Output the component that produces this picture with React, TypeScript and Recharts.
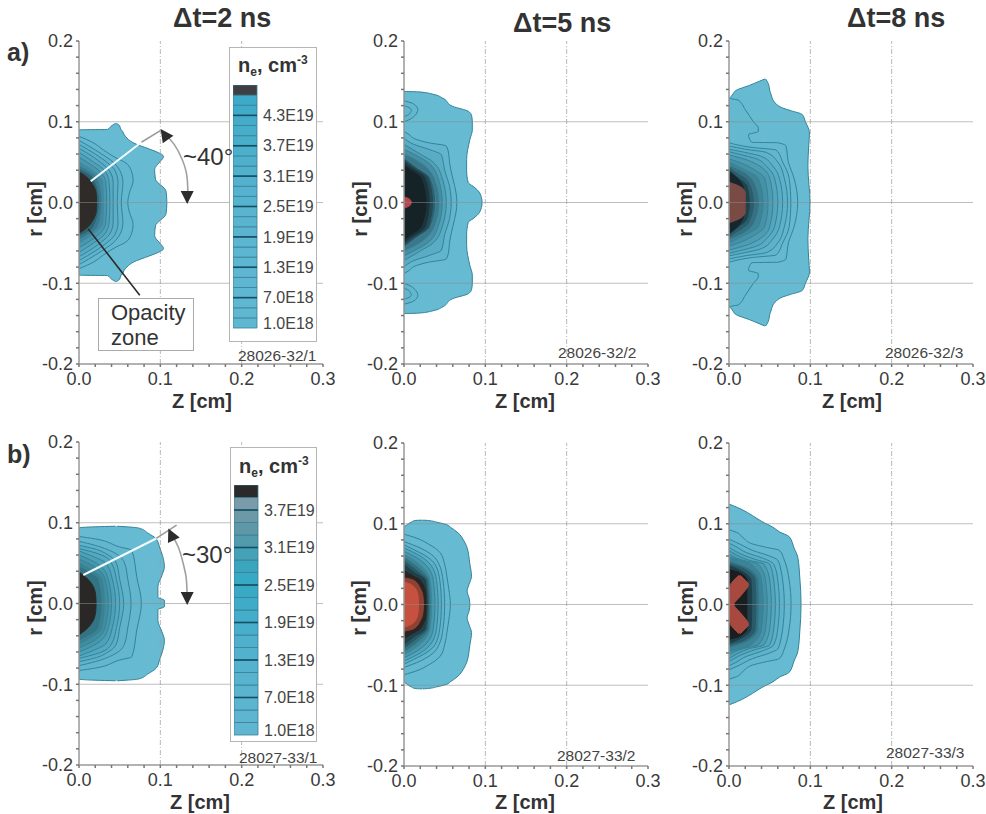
import React from "react";
import { Bar, BarChart, Area, ComposedChart, Line, ReferenceDot, ReferenceLine, XAxis, YAxis } from "recharts";

// Contours as [r, zHigh] or [r, zLow, zHigh], upper half only (r >= 0).
// The profiles are symmetric about r = 0, so the lower half is mirrored.
type Pt = number[];

const a1Contours: Pt[][] = [
  [[0, 0.108], [0.014, 0.107], [0.029, 0.094], [0.041, 0.093], [0.051, 0.1], [0.057, 0.104], [0.062, 0.097], [0.066, 0.087], [0.074, 0.0665], [0.082, 0.057], [0.09, 0.052], [0.0905, 0.035, 0.0515], [0.095, 0.04, 0.05], [0.098, 0.045, 0.046]],
  [[0, 0.06], [0.012, 0.062], [0.027, 0.0665], [0.04, 0.064], [0.05, 0.056], [0.055, 0.046], [0.065, 0.03], [0.074, 0.0175], [0.082, 0]],
  [[0, 0.052], [0.025, 0.054], [0.04, 0.05], [0.05, 0.042], [0.06, 0.028], [0.07, 0.012], [0.077, 0]],
  [[0, 0.047], [0.025, 0.048], [0.04, 0.044], [0.05, 0.034], [0.06, 0.02], [0.072, 0]],
  [[0, 0.042], [0.025, 0.042], [0.04, 0.037], [0.05, 0.026], [0.06, 0.012], [0.067, 0]],
  [[0, 0.038], [0.025, 0.037], [0.04, 0.031], [0.05, 0.018], [0.062, 0]],
  [[0, 0.034], [0.025, 0.033], [0.04, 0.024], [0.05, 0.01], [0.056, 0]],
  [[0, 0.03], [0.025, 0.029], [0.04, 0.016], [0.05, 0]],
  [[0, 0.027], [0.03, 0.022], [0.04, 0.009], [0.045, 0]],
  [[0, 0.024], [0.03, 0.017], [0.041, 0]],
  [[0, 0.0217], [0.012, 0.021], [0.022, 0.017], [0.032, 0.009], [0.038, 0]],
];
const a1Fills = ["#66bad2", "#63b7cf", "#60b3cb", "#5cafc7", "#58a9c1", "#52a1b9", "#4a96ad", "#41899f", "#38798d", "#2d6473", "#2e2b29"];

const a2Contours: Pt[][] = [
  [[0, 0.096], [0.012, 0.093], [0.02, 0.085], [0.0245, 0.079], [0.04, 0.077], [0.053, 0.077], [0.078, 0.081], [0.09, 0.084], [0.1, 0.084], [0.108, 0.083], [0.113, 0.079], [0.119, 0.06], [0.129, 0.048], [0.134, 0.036], [0.137, 0, 0.018], [0.1375, 0, 0]],
  [[0, 0.065], [0.012, 0.064], [0.03, 0.06], [0.049, 0.056], [0.06, 0.055], [0.07, 0.052], [0.074, 0.03], [0.078, 0.0155], [0.085, 0.005], [0.088, 0]],
  [[0, 0.058], [0.02, 0.056], [0.04, 0.05], [0.059, 0.046], [0.066, 0.03], [0.072, 0.012], [0.08, 0]],
  [[0, 0.052], [0.03, 0.047], [0.05, 0.036], [0.06, 0.02], [0.072, 0]],
  [[0, 0.047], [0.03, 0.042], [0.05, 0.029], [0.06, 0.012], [0.066, 0]],
  [[0, 0.043], [0.03, 0.037], [0.05, 0.019], [0.06, 0]],
  [[0, 0.039], [0.03, 0.033], [0.045, 0.014], [0.056, 0]],
  [[0, 0.035], [0.03, 0.03], [0.045, 0.01], [0.053, 0]],
  [[0, 0.031], [0.03, 0.026], [0.045, 0.006], [0.05, 0]],
  [[0, 0.027], [0.03, 0.021], [0.04, 0.008], [0.046, 0]],
  [[0, 0.009], [0.004, 0.007], [0.007, 0]],
];
const a2Fills = ["#66bad2", "#61b5cd", "#5aacc4", "#52a0b6", "#478da3", "#3c7789", "#2f6070", "#244955", "#1b343c", "#152226", "#b8464c"];
const a2Islands: Pt[][] = [
  [[0.1, 0, 0], [0.104, 0, 0.009], [0.115, 0, 0.017], [0.122, 0, 0.012], [0.126, 0, 0]],
  [[0.106, 0, 0], [0.11, 0, 0.007], [0.115, 0, 0.009], [0.12, 0, 0]],
];

const a3Contours: Pt[][] = [
  [[0, 0.0996], [0.045, 0.097], [0.07, 0.098], [0.086, 0.099], [0.1, 0.094], [0.109, 0.09], [0.114, 0.075], [0.117, 0.066], [0.122, 0.058], [0.127, 0, 0.054], [0.133, 0.004, 0.052], [0.139, 0.009, 0.05], [0.145, 0.025, 0.049], [0.15, 0.037, 0.047], [0.153, 0.044, 0.045]],
  [[0, 0.0845], [0.03, 0.08], [0.05, 0.073], [0.07, 0.07], [0.074, 0.06], [0.0745, 0.028], [0.084, 0.024], [0.088, 0.036], [0.092, 0.036], [0.1, 0.03], [0.115, 0.02], [0.127, 0.011], [0.128, 0.005], [0.13, 0]],
  [[0, 0.076], [0.03, 0.074], [0.05, 0.066], [0.065, 0.058], [0.068, 0.03], [0.074, 0]],
  [[0, 0.072], [0.03, 0.068], [0.05, 0.06], [0.062, 0.046], [0.066, 0.02], [0.07, 0]],
  [[0, 0.066], [0.03, 0.062], [0.045, 0.054], [0.057, 0.04], [0.063, 0.015], [0.066, 0]],
  [[0, 0.06], [0.03, 0.056], [0.045, 0.046], [0.054, 0.034], [0.06, 0.012], [0.063, 0]],
  [[0, 0.054], [0.03, 0.05], [0.045, 0.038], [0.052, 0.024], [0.059, 0]],
  [[0, 0.048], [0.03, 0.044], [0.04, 0.032], [0.05, 0.012], [0.054, 0]],
  [[0, 0.042], [0.03, 0.036], [0.04, 0.02], [0.05, 0]],
  [[0, 0.036], [0.025, 0.03], [0.04, 0.012], [0.045, 0]],
  [[0, 0.03], [0.025, 0.024], [0.04, 0.004], [0.043, 0]],
  [[0, 0.025], [0.02, 0.022], [0.033, 0.008], [0.04, 0]],
  [[0, 0.02], [0.02, 0.017], [0.032, 0.008], [0.038, 0]],
  [[0, 0.02], [0.012, 0.02], [0.02, 0.013], [0.025, 0]],
];
const a3Fills = ["#66bad2", "#64b8d0", "#61b5cd", "#5eb1c9", "#5aacc4", "#55a5bc", "#4f9cb2", "#4791a6", "#3f8396", "#357182", "#2b5d6b", "#20424d", "#17262c", "#7a4a45"];

const b1Contours: Pt[][] = [
  [[0, 0.105], [0.004, 0.105], [0.0075, 0.097], [0.021, 0.097], [0.035, 0.102], [0.0456, 0.105], [0.058, 0.103], [0.07, 0.099], [0.08, 0.095], [0.087, 0.085], [0.0936, 0, 0.073], [0.095, 0.02, 0.058], [0.0957, 0.045, 0.047]],
  [[0, 0.0767], [0.033, 0.071], [0.066, 0.065], [0.07, 0.05], [0.08, 0.02], [0.083, 0]],
  [[0, 0.064], [0.03, 0.06], [0.05, 0.056], [0.062, 0.045], [0.072, 0.02], [0.077, 0]],
  [[0, 0.055], [0.03, 0.05], [0.05, 0.046], [0.06, 0.036], [0.068, 0.018], [0.072, 0]],
  [[0, 0.05], [0.03, 0.046], [0.05, 0.04], [0.06, 0.028], [0.065, 0.012], [0.068, 0]],
  [[0, 0.045], [0.03, 0.041], [0.05, 0.033], [0.058, 0.018], [0.065, 0]],
  [[0, 0.04], [0.03, 0.036], [0.045, 0.028], [0.055, 0.012], [0.06, 0]],
  [[0, 0.036], [0.03, 0.032], [0.045, 0.02], [0.055, 0]],
  [[0, 0.031], [0.03, 0.028], [0.04, 0.018], [0.05, 0]],
  [[0, 0.027], [0.03, 0.023], [0.04, 0.01], [0.045, 0]],
  [[0, 0.021], [0.01, 0.0205], [0.02, 0.018], [0.03, 0.011], [0.036, 0.004], [0.039, 0]],
];
const b1Fills = ["#66bad2", "#62b7cf", "#5eb3cb", "#59aec6", "#54a8bf", "#4ea0b6", "#4797ac", "#408da0", "#398193", "#327484", "#2a2826"];

const b2Contours: Pt[][] = [
  [[0, 0.081], [0.008, 0.08], [0.0165, 0.0776], [0.025, 0.08], [0.035, 0.083], [0.05, 0.081], [0.072, 0.077], [0.08, 0.073], [0.0866, 0.0686], [0.093, 0.061], [0.095, 0, 0.058], [0.099, 0.004, 0.052], [0.102, 0.009, 0.04], [0.104, 0.0135, 0.03], [0.1045, 0.022, 0.023]],
  [[0, 0.057], [0.02, 0.055], [0.035, 0.0527], [0.05, 0.05], [0.064, 0.0445], [0.075, 0.03], [0.082, 0.016], [0.087, 0]],
  [[0, 0.05], [0.03, 0.048], [0.05, 0.043], [0.06, 0.036], [0.07, 0.02], [0.078, 0]],
  [[0, 0.046], [0.03, 0.044], [0.05, 0.038], [0.06, 0.027], [0.068, 0.012], [0.074, 0]],
  [[0, 0.042], [0.03, 0.04], [0.05, 0.032], [0.06, 0.02], [0.07, 0]],
  [[0, 0.038], [0.03, 0.036], [0.05, 0.026], [0.06, 0.012], [0.066, 0]],
  [[0, 0.034], [0.03, 0.032], [0.045, 0.024], [0.055, 0.012], [0.062, 0]],
  [[0, 0.032], [0.03, 0.03], [0.045, 0.018], [0.058, 0]],
  [[0, 0.03], [0.03, 0.028], [0.04, 0.018], [0.054, 0]],
  [[0, 0.0285], [0.03, 0.026], [0.04, 0.012], [0.05, 0]],
  [[0, 0.027], [0.012, 0.027], [0.03, 0.02], [0.036, 0.01], [0.042, 0]],
  [[0, 0.024], [0.012, 0.023], [0.02, 0.02], [0.03, 0.012], [0.033, 0]],
  [[0, 0.018], [0.012, 0.017], [0.02, 0.014], [0.026, 0.006], [0.028, 0]],
];
const b2Fills = ["#66bad2", "#64b8d0", "#60b4cc", "#5aaec6", "#52a4bb", "#4897ac", "#3d8799", "#33727f", "#285a65", "#20414a", "#2a2422", "#8f4134", "#c6513f"];

const b3Contours: Pt[][] = [
  [[0, 0.0886], [0.034, 0.087], [0.0587, 0.0845], [0.07, 0.08], [0.084, 0.074], [0.09, 0.062], [0.0957, 0.054], [0.103, 0.04], [0.11, 0.029], [0.118, 0.015], [0.122, 0.006], [0.124, 0.001]],
  [[0, 0.0763], [0.03, 0.074], [0.055, 0.068], [0.067, 0.062], [0.071, 0.045], [0.075, 0.029], [0.083, 0.017], [0.0895, 0.009], [0.0925, 0]],
  [[0, 0.068], [0.03, 0.066], [0.042, 0.064], [0.055, 0.06], [0.06, 0.05], [0.067, 0.029], [0.075, 0.013], [0.081, 0]],
  [[0, 0.062], [0.03, 0.06], [0.05, 0.055], [0.058, 0.04], [0.064, 0.022], [0.072, 0.008], [0.076, 0]],
  [[0, 0.057], [0.03, 0.055], [0.05, 0.05], [0.056, 0.032], [0.062, 0.016], [0.071, 0]],
  [[0, 0.052], [0.03, 0.05], [0.05, 0.043], [0.055, 0.024], [0.06, 0.012], [0.067, 0]],
  [[0, 0.047], [0.03, 0.045], [0.05, 0.036], [0.055, 0.016], [0.062, 0]],
  [[0, 0.042], [0.03, 0.04], [0.05, 0.027], [0.058, 0]],
  [[0, 0.037], [0.03, 0.036], [0.045, 0.024], [0.054, 0]],
  [[0, 0.033], [0.03, 0.032], [0.045, 0.017], [0.05, 0]],
  [[0, 0.028], [0.03, 0.027], [0.04, 0.018], [0.045, 0.008], [0.048, 0]],
  [[0, 0.022], [0.03, 0.022], [0.04, 0.012], [0.043, 0]],
  [[0, 0, 0.006], [0.008, 0, 0.012], [0.015, 0, 0.018], [0.025, 0.002, 0.024], [0.03, 0.006, 0.02], [0.036, 0.012, 0.014]],
];
const b3Fills = ["#66bad2", "#63b7cf", "#5fb3cb", "#5baec6", "#56a7be", "#4f9db3", "#4791a6", "#3e8395", "#337081", "#295a69", "#1f404a", "#1a1e20", "#a8493f"];

// Tick lists
const zTicks = [0, 0.02, 0.04, 0.06, 0.08, 0.1, 0.12, 0.14, 0.16, 0.18, 0.2, 0.22, 0.24, 0.26, 0.28, 0.3];
const rTicks = [-0.2, -0.18, -0.16, -0.14, -0.12, -0.1, -0.08, -0.06, -0.04, -0.02, 0, 0.02, 0.04, 0.06, 0.08, 0.1, 0.12, 0.14, 0.16, 0.18, 0.2];

// Colour bars, bottom row first
const barAFills = ["#60b7d2", "#60b7d2", "#60b7d2", "#5eb6d2", "#5eb6d2", "#5eb6d2", "#5cb5d1", "#5cb5d1", "#5cb5d1", "#5ab4d0", "#5ab4d0", "#5ab4d0", "#56b3cf", "#56b3cf", "#54b2ce", "#50b1cd", "#4eb0cc", "#4cafcb", "#48aeca", "#46adca", "#44acc9", "#40abc8", "#3caac8", "#3e3f43"];
const barATicks = [0.5, 3, 6, 9, 12, 15, 18, 21];
const barALabels = ["1.0E18", "7.0E18", "1.3E19", "1.9E19", "2.5E19", "3.1E19", "3.7E19", "4.3E19"];
const barBFills = ["#60b6d1", "#5eb5d0", "#5cb5d0", "#5ab4cf", "#58b3cf", "#55b2ce", "#52b1cd", "#4eb0cc", "#48aecb", "#44adca", "#3eabc8", "#38aac6", "#36a9c4", "#3aa5bc", "#45a2b6", "#529bad", "#5e97a6", "#6d98a6", "#7a9baa", "#2b2a2a"];
const barBTicks = [0.4, 3, 6, 9, 12, 15, 18];
const barBLabels = ["1.0E18", "7.0E18", "1.3E19", "1.9E19", "2.5E19", "3.1E19", "3.7E19"];

// Annotation lines, in chart units
const a1Arc = [{ r: 0.008, z: 0.134 }, { r: 0.03, z: 0.133 }, { r: 0.053, z: 0.127 }, { r: 0.072, z: 0.117 }, { r: 0.088, z: 0.103 }];
const b1Arc = [{ r: 0.0086, z: 0.133 }, { r: 0.03, z: 0.132 }, { r: 0.05, z: 0.128 }, { r: 0.07, z: 0.122 }, { r: 0.086, z: 0.114 }];

const FONT = "'Liberation Sans', Arial, sans-serif";
const PLOT_W = 244;
const PLOT_H = 323;
const M_LEFT = 60;
const M_TOP = 12;
const M_RIGHT = 14;
const M_BOTTOM = 34;
const AXIS = "#999999";
const TICK = { stroke: "#777777" };

const toRows = (pts: Pt[]) => {
  const upper = pts.map((p) => ({ r: p[0], z: p.length === 3 ? [p[1], p[2]] : [0, p[1]] }));
  const lower = upper.filter((p) => p.r > 0).map((p) => ({ r: -p.r, z: p.z })).reverse();
  return [...lower, ...upper];
};

const islandRows = (pts: Pt[], sign: number) => pts.map((p) => ({ r: sign * p[0], z: [p[1], p[2]] }));

const fmtTick = (v: number) => (Math.abs(v * 10 - Math.round(v * 10)) < 1e-6 ? v.toFixed(1) : "");
const noLabel = () => "";

const Triangle = ({ cx, cy, angle }: { cx?: number; cy?: number; angle: number }) => (
  <polygon points="0,-8 6.5,5 -6.5,5" fill="#2c2c2c" transform={`translate(${cx},${cy}) rotate(${angle})`} />
);

interface PanelProps {
  left: number;
  top: number;
  contours: Pt[][];
  fills: string[];
  lined: number;
  islands?: Pt[][];
  children?: React.ReactNode;
}

function Panel({ left, top, contours, fills, lined, islands, children }: PanelProps) {
  const islandSets = (islands || []).flatMap((c) => [islandRows(c, 1), islandRows(c, -1)]);
  return (
    <div style={{ position: "absolute", left: left - M_LEFT, top: top - M_TOP }}>
      <ComposedChart
        width={M_LEFT + PLOT_W + M_RIGHT}
        height={M_TOP + PLOT_H + M_BOTTOM}
        layout="vertical"
        margin={{ top: M_TOP, right: M_RIGHT, bottom: 0, left: 0 }}
      >
        <XAxis
          type="number" xAxisId={0} orientation="bottom" domain={[0, 0.3]} ticks={zTicks} interval={0} height={M_BOTTOM}
          tickFormatter={fmtTick} tickSize={3} tickMargin={5} tickLine={TICK}
          stroke={AXIS} strokeWidth={1.5} tick={{ fill: "#3a3a3a", fontSize: 18, fontFamily: FONT }} allowDataOverflow
        />
        <XAxis
          type="number" xAxisId={1} orientation="top" domain={[0, 0.3]} ticks={zTicks} interval={0} height={0}
          tickFormatter={noLabel} tickSize={3} tickLine={TICK} stroke={AXIS} strokeWidth={1.5} allowDataOverflow
        />
        <YAxis
          type="number" yAxisId={0} dataKey="r" reversed domain={[-0.2, 0.2]} ticks={rTicks} interval={0} width={M_LEFT}
          tickFormatter={fmtTick} tickSize={3} tickMargin={3} tickLine={TICK}
          stroke={AXIS} strokeWidth={1.5} tick={{ fill: "#3a3a3a", fontSize: 18, fontFamily: FONT }} allowDataOverflow
        />
        <YAxis
          type="number" yAxisId={1} orientation="right" reversed domain={[-0.2, 0.2]} ticks={rTicks} interval={0} width={0}
          tickFormatter={noLabel} tickSize={3} tickLine={TICK} stroke={AXIS} strokeWidth={1.5} allowDataOverflow
        />
        {contours.map((c, i) => (
          <Area
            key={i}
            data={toRows(c)}
            dataKey="z"
            type="monotone"
            fill={fills[i]}
            fillOpacity={1}
            stroke={i < lined ? "#338399" : fills[i]}
            strokeWidth={1}
            dot={false}
            activeDot={false}
            isAnimationActive={false}
          />
        ))}
        {islandSets.map((rows, i) => (
          <Area
            key={`island-${i}`}
            data={rows}
            dataKey="z"
            type="monotone"
            fill="#62b7cf"
            fillOpacity={1}
            stroke="#338399"
            strokeWidth={1}
            dot={false}
            activeDot={false}
            isAnimationActive={false}
          />
        ))}
        {[0.1, 0.2].map((z) => (
          <ReferenceLine key={z} x={z} stroke="#9a9a9a" strokeOpacity={0.7} strokeDasharray="5 2 1 2" />
        ))}
        {[-0.1, 0, 0.1].map((r) => (
          <ReferenceLine key={r} y={r} stroke="#8a8a8a" strokeOpacity={0.55} />
        ))}
        {children}
      </ComposedChart>
    </div>
  );
}

function ColourBar({ left, top, height, fills, ticks, labels }: { left: number; top: number; height: number; fills: string[]; ticks: number[]; labels: string[] }) {
  const row = [Object.fromEntries(fills.map((_, i) => [`l${i}`, 1]))];
  const bold = ticks.filter((t) => t >= 3);
  return (
    <div style={{ position: "absolute", left, top }}>
      <BarChart width={24 + 64} height={height + 12} data={row} barCategoryGap={0} margin={{ top: 0, right: 0, bottom: 12, left: 0 }}>
        <XAxis hide type="category" />
        <YAxis
          orientation="right" type="number" domain={[0, fills.length]} ticks={ticks} interval={0} width={64}
          tickFormatter={(v: number) => labels[ticks.indexOf(v)]} tickLine={false} axisLine={false} tickMargin={0}
          tick={{ fill: "#444", fontSize: 16, fontFamily: FONT }}
        />
        {fills.map((f, i) => (
          <Bar key={i} dataKey={`l${i}`} stackId="s" fill={f} stroke="#3a7f95" strokeWidth={0.8} isAnimationActive={false} />
        ))}
        {bold.map((t) => (
          <ReferenceLine key={t} y={t} stroke="#174f63" strokeWidth={1.6} />
        ))}
      </BarChart>
    </div>
  );
}

const txt = { fontFamily: FONT, fill: "#333" } as const;

const titles = [
  { label: "Δt=2 ns", x: 173, y: 27 },
  { label: "Δt=5 ns", x: 513, y: 32 },
  { label: "Δt=8 ns", x: 847, y: 27 },
];
const zLabels = [
  { x: 202, y: 408 }, { x: 525, y: 408 }, { x: 852, y: 408 },
  { x: 200, y: 809 }, { x: 525, y: 809 }, { x: 853, y: 809 },
];
const rLabels = [
  { x: 42, y: 209 }, { x: 367, y: 209 }, { x: 692, y: 209 },
  { x: 42, y: 608 }, { x: 366, y: 608 }, { x: 693, y: 608 },
];
const runLabels = [
  { label: "28026-32/1", x: 238, y: 361 }, { label: "28026-32/2", x: 558, y: 358 }, { label: "28026-32/3", x: 885, y: 358 },
  { label: "28027-33/1", x: 239, y: 763 }, { label: "28027-33/2", x: 557, y: 761 }, { label: "28027-33/3", x: 886, y: 758 },
];

export default function App() {
  return (
    <div style={{ position: "absolute", left: 0, top: 0, width: 986, height: 814, background: "#fff", overflow: "hidden" }}>
      <Panel left={79} top={41} contours={a1Contours} fills={a1Fills} lined={7}>
        <ReferenceLine segment={[{ x: 0.0767, y: 0.0746 }, { x: 0.1, y: 0.089 }]} stroke="#999" strokeWidth={1.5} />
        <ReferenceLine segment={[{ x: 0.0144, y: 0.0264 }, { x: 0.0767, y: 0.0746 }]} stroke="#f4fbfd" strokeWidth={2} />
        <ReferenceLine segment={[{ x: 0.0114, y: -0.0328 }, { x: 0.0747, y: -0.1148 }]} stroke="#2b2b2b" strokeWidth={1.6} ifOverflow="visible" />
        <Line data={a1Arc} dataKey="z" type="monotone" stroke="#a0a0a0" strokeWidth={1.6} dot={false} activeDot={false} isAnimationActive={false} />
        <ReferenceDot x={0.106} y={0.083} shape={<Triangle angle={-35} />} />
        <ReferenceDot x={0.133} y={0.008} shape={<Triangle angle={180} />} />
      </Panel>
      <Panel left={404} top={41} contours={a2Contours} fills={a2Fills} lined={7} islands={a2Islands} />
      <Panel left={729} top={41} contours={a3Contours} fills={a3Fills} lined={9} />
      <Panel left={79} top={442} contours={b1Contours} fills={b1Fills} lined={8}>
        <ReferenceLine segment={[{ x: 0.095, y: 0.0805 }, { x: 0.12, y: 0.097 }]} stroke="#999" strokeWidth={1.5} />
        <ReferenceLine segment={[{ x: 0.0053, y: 0.0353 }, { x: 0.095, y: 0.0805 }]} stroke="#f4fbfd" strokeWidth={2} />
        <Line data={b1Arc} dataKey="z" type="monotone" stroke="#a0a0a0" strokeWidth={1.6} dot={false} activeDot={false} isAnimationActive={false} />
        <ReferenceDot x={0.114} y={0.084} shape={<Triangle angle={-25} />} />
        <ReferenceDot x={0.133} y={0.008} shape={<Triangle angle={180} />} />
      </Panel>
      <Panel left={404} top={443} contours={b2Contours} fills={b2Fills} lined={6} />
      <Panel left={729} top={443} contours={b3Contours} fills={b3Fills} lined={9} />

      {/* legend frames and the opacity box sit over the plots */}
      <div style={{ position: "absolute", left: 229, top: 47, width: 86, height: 293, background: "#fff", border: "1.5px solid #b5b5b5" }} />
      <div style={{ position: "absolute", left: 230, top: 447, width: 85, height: 293, background: "#fff", border: "1.5px solid #b5b5b5" }} />
      <div style={{ position: "absolute", left: 98, top: 298, width: 94, height: 51, background: "#fff", border: "1.5px solid #aaa" }} />

      <ColourBar left={233} top={85} height={243} fills={barAFills} ticks={barATicks} labels={barALabels} />
      <ColourBar left={234} top={485} height={250} fills={barBFills} ticks={barBTicks} labels={barBLabels} />

      <svg width={986} height={814} style={{ position: "absolute", left: 0, top: 0, pointerEvents: "none" }}>
        {titles.map((t) => (
          <text key={t.label} x={t.x} y={t.y} fontSize={27} fontWeight="bold" {...txt}>{t.label}</text>
        ))}
        <text x={7} y={61} fontSize={25} fontWeight="bold" {...txt}>a)</text>
        <text x={7} y={463} fontSize={25} fontWeight="bold" {...txt}>b)</text>
        {zLabels.map((p, i) => (
          <text key={i} x={p.x} y={p.y} fontSize={20} fontWeight="bold" textAnchor="middle" {...txt}>Z [cm]</text>
        ))}
        {rLabels.map((p, i) => (
          <text key={i} x={p.x} y={p.y} fontSize={20} fontWeight="bold" textAnchor="middle" transform={`rotate(-90 ${p.x} ${p.y})`} {...txt}>r [cm]</text>
        ))}
        {runLabels.map((p) => (
          <text key={p.label} x={p.x} y={p.y} fontSize={15.5} {...txt} fill="#444">{p.label}</text>
        ))}
        <text x={183} y={165} fontSize={24} {...txt}>~40°</text>
        <text x={182} y={563} fontSize={24} {...txt}>~30°</text>
        <text x={111} y={320} fontSize={22} {...txt}>Opacity</text>
        <text x={111} y={345} fontSize={22} {...txt}>zone</text>
        {[{ x: 238, y: 72 }, { x: 239, y: 473 }].map((p) => (
          <text key={p.y} x={p.x} y={p.y} fontSize={20} fontWeight="bold" {...txt}>
            n<tspan fontSize={12} dy={4}>e</tspan><tspan dy={-4}>, cm</tspan><tspan fontSize={12} dy={-8}>-3</tspan>
          </text>
        ))}
      </svg>
    </div>
  );
}
